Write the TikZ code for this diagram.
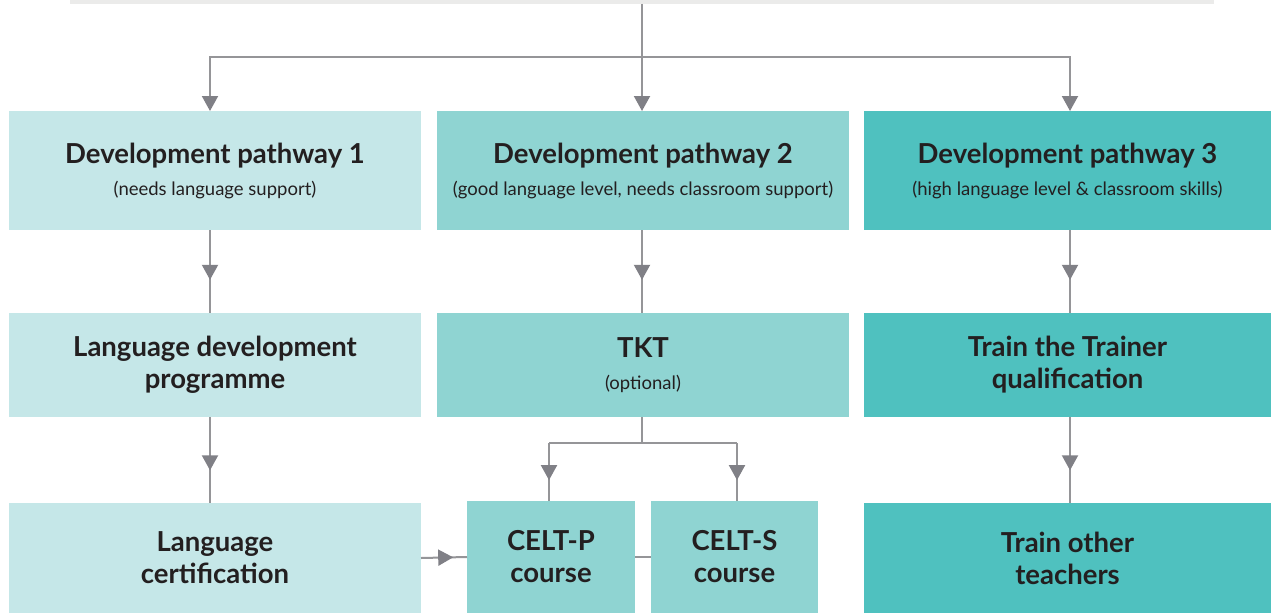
\documentclass[tikz,border=0pt]{standalone}
\usepackage{fontspec}
\setmainfont{Lato}
\usetikzlibrary{arrows.meta,decorations.markings,calc}
\definecolor{cA}{HTML}{C5E7E8}
\definecolor{cB}{HTML}{8FD4D2}
\definecolor{cC}{HTML}{4FC1BF}
\definecolor{lineg}{HTML}{959598}
\definecolor{tipg}{HTML}{808086}
\definecolor{barg}{HTML}{EBEBEA}
\definecolor{txt}{HTML}{231F20}
\tikzset{
  box/.style={rectangle, inner sep=0pt, outer sep=0pt, align=center, text=txt,
    font=\fontsize{27.5}{32}\selectfont\bfseries},
  conn/.style={draw=lineg, line width=2pt},
  tipend/.style={-{Triangle[width=16pt,length=15pt,color=tipg]}},
  midtip/.style={postaction={decorate}, decoration={markings,
    mark=at position #1 with {\arrow{Triangle[width=16pt,length=15pt,color=tipg]}}}},
}
\newcommand{\subt}[1]{{\fontsize{18.5}{22}\selectfont\mdseries #1}}
\begin{document}
\begin{tikzpicture}[x=1pt,y=-1pt]
\useasboundingbox (0,0) rectangle (1271,613);
\fill[white] (0,0) rectangle (1271,613);
\node[rectangle, fill=barg, minimum width=1144pt, minimum height=3.5pt, inner sep=0pt, anchor=north west] (top) at (70,0) {};

% row 1
\node[box, fill=cA, minimum width=412pt, minimum height=119pt] (p1) at (215,170.5)
  {Development pathway 1\\[0pt]\subt{(needs language support)}};
\node[box, fill=cB, minimum width=412pt, minimum height=119pt] (p2) at (643,170.5)
  {Development pathway 2\\[0pt]\subt{(good language level, needs classroom support)}};
\node[box, fill=cC, minimum width=407pt, minimum height=119pt] (p3) at (1067.5,170.5)
  {Development pathway 3\\[0pt]\subt{(high language level \& classroom skills)}};

% row 2
\node[box, fill=cA, minimum width=412pt, minimum height=104pt] (ldp) at (215,365)
  {Language development\\programme};
\node[box, fill=cB, minimum width=412pt, minimum height=104pt] (tkt) at (643,365)
  {TKT\\[0pt]\subt{(optional)}};
\node[box, fill=cC, minimum width=407pt, minimum height=104pt] (ttt) at (1067.5,365)
  {Train the Trainer\\qualification};

% row 3
\node[box, fill=cA, minimum width=412pt, minimum height=110pt] (lc) at (215,558)
  {Language\\certification};
\node[box, fill=cB, minimum width=168pt, minimum height=112pt] (cp) at (551,557)
  {CELT-P\\course};
\node[box, fill=cB, minimum width=167pt, minimum height=112pt] (cs) at (734.5,557)
  {CELT-S\\course};
\node[box, fill=cC, minimum width=407pt, minimum height=110pt] (tot) at (1067.5,558)
  {Train other\\teachers};

% top connectors
\coordinate (j) at (642,57);
\draw[conn] (top.south -| j) -- (j);
\draw[conn, tipend] (j) -| ([xshift=-5pt]p1.north);
\draw[conn, tipend] (j) -- (p2.north -| j);
\draw[conn, tipend] (j) -| ([xshift=2.5pt]p3.north);

% vertical connectors
\draw[conn, midtip=0.6] ([xshift=-5pt]p1.south) -- ([xshift=-5pt]ldp.north);
\draw[conn, midtip=0.6] ([xshift=-1pt]p2.south) -- ([xshift=-1pt]tkt.north);
\draw[conn, midtip=0.6] ([xshift=2.5pt]p3.south) -- ([xshift=2.5pt]ttt.north);
\draw[conn, midtip=0.62] ([xshift=-5pt]ldp.south) -- ([xshift=-5pt]lc.north);
\draw[conn, midtip=0.62] ([xshift=2.5pt]ttt.south) -- ([xshift=2.5pt]tot.north);

% TKT branches
\coordinate (k) at (642,443);
\coordinate (kp) at (549,443);
\coordinate (ks) at (737,443);
\draw[conn] ([xshift=-1pt]tkt.south) -- (k);
\draw[conn] (kp) -- (ks);
\draw[conn, midtip=0.64] (kp) -- (kp |- cp.north);
\draw[conn, midtip=0.64] (ks) -- (ks |- cs.north);

% horizontal
\draw[conn, midtip=0.7] (lc.east) -- (cp.west);
\draw[conn] (cp.east) -- (cs.west);
\end{tikzpicture}
\end{document}
